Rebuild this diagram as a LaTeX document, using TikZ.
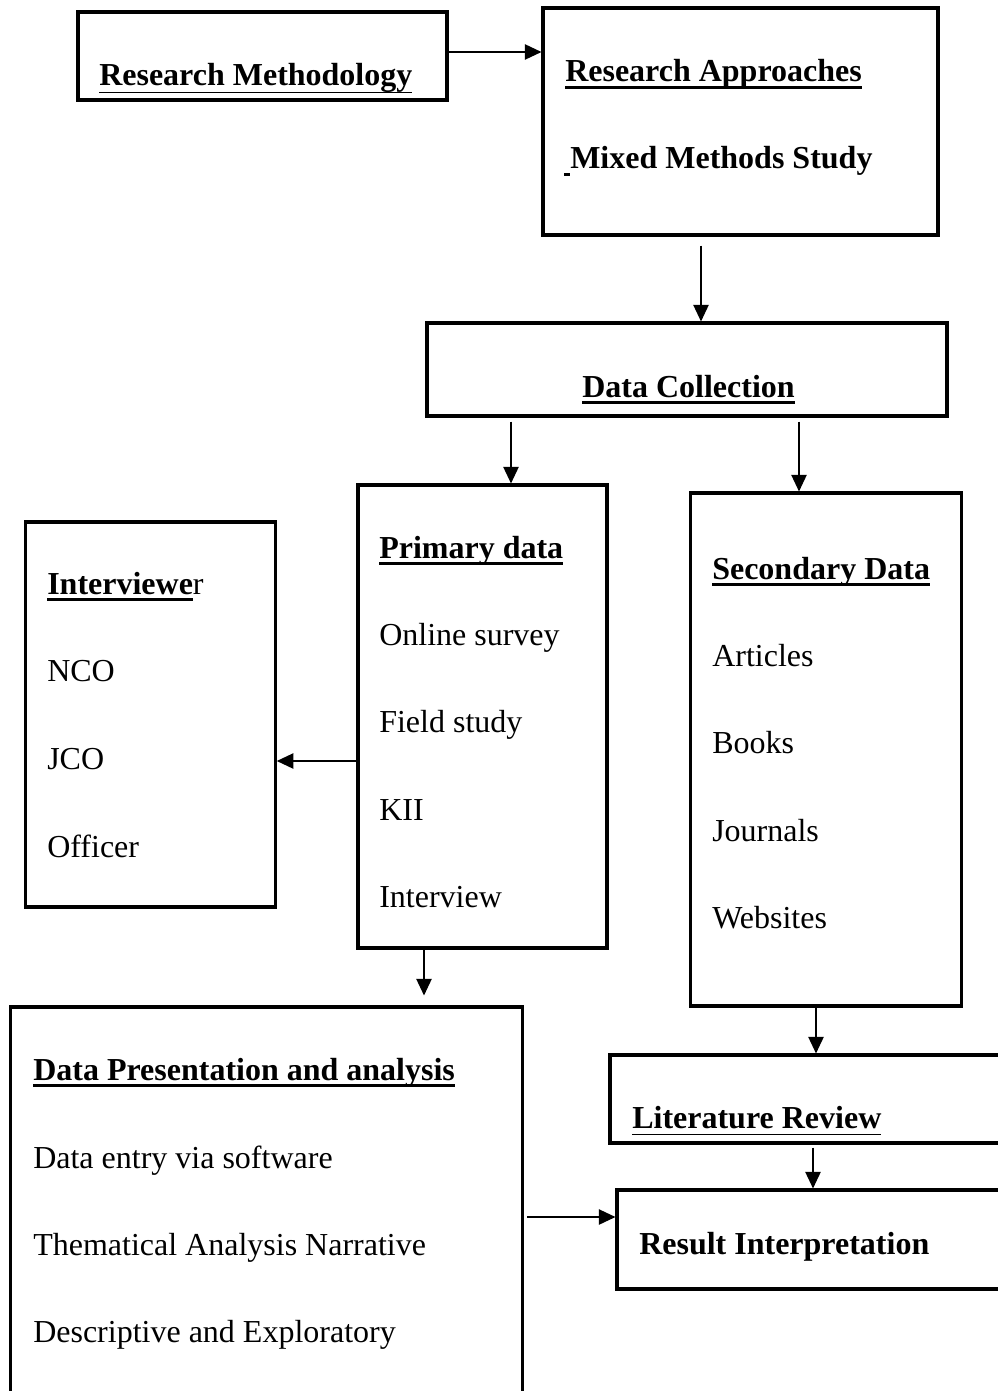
\documentclass[tikz,border=0pt]{standalone}
\usepackage{fontspec}
\setmainfont{Liberation Serif}
\usetikzlibrary{arrows.meta,calc}
\newcommand\ulin[2][2pt]{\setbox0=\hbox{#2}\rlap{\rule[-5.5pt]{\wd0}{#1}}\box0}
\tikzset{
  box/.style={draw=black,line width=2.3pt,rectangle,inner sep=0pt,fill=none},
  txt/.style={inner sep=0pt,anchor=base west,font=\fontsize{24pt}{28pt}\selectfont},
  arr/.style={line width=1.2pt,-{Triangle[length=12.5pt,width=11.5pt]}}
}
\begin{document}
\begin{tikzpicture}[x=0.75pt,y=-0.75pt]
\useasboundingbox[fill=white] (0,0) rectangle (998,1391);
% boxes
\node[box,minimum width=369*0.75pt,minimum height=88*0.75pt] (rm) at (262.5,56) {};
\node[box,minimum width=395*0.75pt,minimum height=227*0.75pt] (ra) at (740.5,121.5) {};
\node[box,minimum width=520*0.75pt,minimum height=93*0.75pt] (dc) at (687,369.5) {};
\node[box,minimum width=249*0.75pt,minimum height=463*0.75pt] (pd) at (482.5,716.5) {};
\node[box,minimum width=249.5*0.75pt,minimum height=385*0.75pt] (iv) at (150.5,714.5) {};
\node[box,minimum width=271*0.75pt,minimum height=513*0.75pt] (sd) at (826,749.5) {};
\node[box,minimum width=400*0.75pt,minimum height=88*0.75pt] (lr) at (810,1099) {};
\node[box,minimum width=393*0.75pt,minimum height=99*0.75pt] (ri) at (813.5,1239.5) {};
\node[box,minimum width=512*0.75pt,minimum height=393*0.75pt] (dp) at (266.5,1203.5) {};
% texts
\node[txt] (trm) at (99,86) {\ulin[1.2pt]{\textbf{Research Methodology}}};
\node[txt] (tra) at (565,82) {\ulin[2.2pt]{\textbf{Research Approaches}}};
\node[txt] (tmx) at (564,168) {\rule[-6pt]{4.5pt}{2.2pt}\textbf{Mixed Methods Study}};
\node[txt] (tdc) at (582,397) {\ulin[2.2pt]{\textbf{Data Collection}}};
\node[txt] (tpd) at (379,558) {\ulin[2.2pt]{\textbf{Primary data}}};
\node[txt] (tpd1) at (379,645) {Online survey};
\node[txt] (tpd2) at (379,732) {Field study};
\node[txt] (tpd3) at (379,820) {KII};
\node[txt] (tpd4) at (379,907) {Interview};
\node[txt] (tiv) at (47,594) {\ulin[2.2pt]{\textbf{Interviewe}}r};
\node[txt] (tiv1) at (47,681) {NCO};
\node[txt] (tiv2) at (47,769) {JCO};
\node[txt] (tiv3) at (47,857) {Officer};
\node[txt] (tsd) at (712,579) {\ulin[2.2pt]{\textbf{Secondary Data}}};
\node[txt] (tsd1) at (712,666) {Articles};
\node[txt] (tsd2) at (712,753) {Books};
\node[txt] (tsd3) at (712,841) {Journals};
\node[txt] (tsd4) at (712,928) {Websites};
\node[txt] (tlr) at (632,1128) {\ulin[1.2pt]{\textbf{Literature Review}}};
\node[txt] (tri) at (639,1254) {\textbf{Result Interpretation}};
\node[txt] (tdp) at (33,1080) {\ulin[2.2pt]{\textbf{Data Presentation and analysis}}};
\node[txt] (tdp1) at (33,1168) {Data entry via software};
\node[txt] (tdp2) at (33,1255) {Thematical Analysis Narrative};
\node[txt] (tdp3) at (33,1342) {Descriptive and Exploratory};
% connectors
\path (rm.east) ++(-3,-4) coordinate (s1);
\draw[arr] (s1) -- (s1 -| ra.west);
\path (ra.south) ++(-39.5,9) coordinate (s2);
\draw[arr] (s2) -- (s2 |- dc.north);
\path (dc.south) ++(-176,4) coordinate (s3);
\draw[arr] (s3) -- (s3 |- pd.north);
\path (dc.south) ++(112,4) coordinate (s4);
\draw[arr] (s4) -- (s4 |- sd.north);
\path (pd.west) ++(2,44.5) coordinate (s5);
\draw[arr] (s5) -- (s5 -| iv.east);
\path (pd.south) ++(-58.5,0) coordinate (s6);
\draw[arr] (s6) -- ($(s6 |- dp.north)+(0,-10)$);
\path (sd.south) ++(-10,-3) coordinate (s7);
\draw[arr] (s7) -- (s7 |- lr.north);
\path (lr.south) ++(3,3) coordinate (s8);
\draw[arr] (s8) -- (s8 |- ri.north);
\path (dp.east) ++(3,13.5) coordinate (s9);
\draw[arr] (s9) -- (s9 -| ri.west);
\end{tikzpicture}
\end{document}
